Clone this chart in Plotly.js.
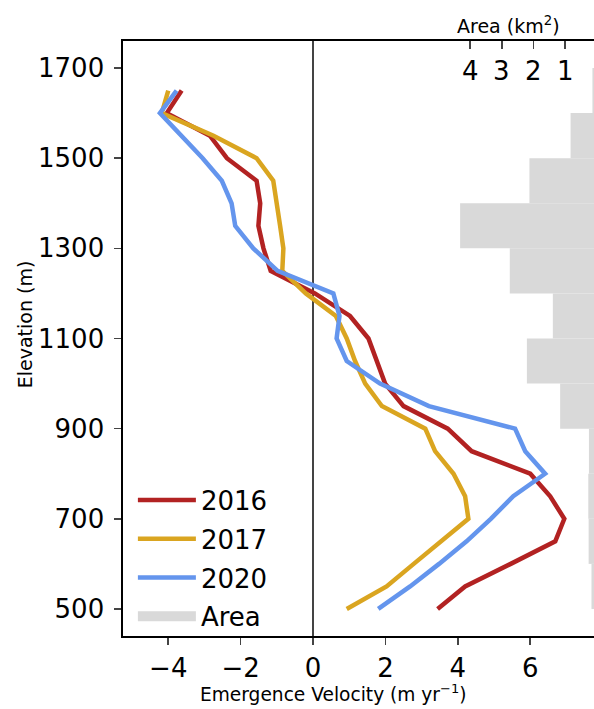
<!DOCTYPE html>
<html>
<head>
<meta charset="utf-8">
<script src="https://cdn.plot.ly/plotly-3.0.1.min.js"></script>
<style>html,body{margin:0;padding:0;background:#fff}#chart{width:594px;height:709px}</style>
</head>
<body>
<div id="chart"></div>
<script>
// Elevation (m) of velocity profile points
const elevation = [500,550,600,650,700,750,800,850,900,950,1000,1050,1100,1150,1200,1250,1300,1350,1400,1450,1500,1550,1600,1650];
// Emergence velocity (m/yr)
const v2016 = [3.44,4.20,5.46,6.69,6.94,6.55,6.00,4.38,3.72,2.50,1.99,1.75,1.53,1.02,0.05,-1.17,-1.37,-1.51,-1.46,-1.56,-2.38,-2.85,-4.04,-3.63];
const v2017 = [0.93,2.03,2.78,3.54,4.29,4.20,3.88,3.37,3.10,1.90,1.44,1.16,0.93,0.63,-0.20,-0.85,-0.82,-0.91,-1.00,-1.10,-1.56,-2.75,-4.18,-4.00];
const v2020 = [1.80,2.68,3.48,4.24,4.91,5.53,6.41,5.86,5.58,3.20,1.85,0.93,0.65,0.73,0.56,-0.98,-1.65,-2.15,-2.25,-2.52,-3.05,-3.62,-4.23,-3.77];
// Area histogram (km^2) per 100 m elevation band
const bandCenters = [550,650,750,850,950,1050,1150,1250,1350,1450,1550,1650];
const bandArea = [0.17,0.26,0.27,0.25,1.16,2.21,1.39,2.75,4.32,2.13,0.83,0.14];
const yTicks = [500,700,900,1100,1300,1500,1700];
const xTicks = [-4,-2,0,2,4,6];
const areaTicks = [1,2,3,4];

const FONT = 'DejaVu Sans, sans-serif';
const TICKFONT = {family:FONT, size:26, color:'#000'};
const traces = [
  {type:'bar', orientation:'h', x:bandArea, y:bandCenters, width:100, xaxis:'x2', yaxis:'y',
   marker:{color:'#d9d9d9', line:{width:0}}, showlegend:false, legendgroup:'area', hoverinfo:'skip'},
  {type:'scatter', mode:'lines', x:v2016, y:elevation, name:'2016', legendgroup:'a',
   line:{color:'#b22222', width:4.5}},
  {type:'scatter', mode:'lines', x:v2017, y:elevation, name:'2017', legendgroup:'b',
   line:{color:'#daa520', width:4.5}},
  {type:'scatter', mode:'lines', x:v2020, y:elevation, name:'2020', legendgroup:'c',
   line:{color:'#6495ed', width:4.5}},
  {type:'scatter', mode:'lines', x:[null], y:[null], name:'Area', legendgroup:'area',
   line:{color:'#d9d9d9', width:19}}
];

const annotations = [
  {text:'Elevation (m)', xref:'paper', yref:'paper', x:-0.208, y:0.524, textangle:-90,
   showarrow:false, xanchor:'center', yanchor:'middle', font:{family:FONT, size:19}},
  {text:'Emergence Velocity (m yr<sup>−1</sup>)', xref:'paper', yref:'paper', x:0.446, y:-0.096,
   showarrow:false, xanchor:'center', yanchor:'middle', font:{family:FONT, size:18.6}},
  {text:'Area (km<sup>2</sup>)', xref:'paper', yref:'paper', x:0.8195, y:1.027,
   showarrow:false, xanchor:'center', yanchor:'middle', font:{family:FONT, size:19}}
];
// top-axis tick labels (drawn inside the plot, under the top spine)
areaTicks.forEach(t => annotations.push({
  text:String(t), xref:'x2', yref:'paper', x:t, y:0.9496, showarrow:false,
  xanchor:'center', yanchor:'middle', font:TICKFONT
}));

const layout = {
  width:594, height:709,
  margin:{l:123, r:0, t:41, b:73},
  paper_bgcolor:'#fff', plot_bgcolor:'rgba(0,0,0,0)',
  font:{family:FONT, size:26, color:'#000'},
  showlegend:true,
  legend:{x:0.021, y:0.268, xanchor:'left', yanchor:'top', bgcolor:'rgba(0,0,0,0)',
          font:{family:FONT, size:26, color:'#000'}, itemwidth:58, tracegroupgap:2, traceorder:'grouped'},
  xaxis:{range:[-5.25,7.76], tickvals:xTicks, ticks:'outside', ticklen:7, tickwidth:1.6,
         tickfont:TICKFONT, showline:true, linewidth:1.6, linecolor:'#000', showgrid:false,
         zeroline:true, zerolinecolor:'#444', zerolinewidth:1.3, ticklabelstandoff:1},
  xaxis2:{overlaying:'x', side:'top', anchor:'y', range:[14.97,0.09], tickvals:areaTicks,
          ticks:'inside', ticklen:8, tickwidth:1.6, showticklabels:false,
          showline:true, linewidth:1.6, linecolor:'#000', showgrid:false, zeroline:false},
  yaxis:{range:[440,1760], tickvals:yTicks, ticks:'outside', ticklen:7, tickwidth:1.6,
         tickfont:TICKFONT, showline:true, linewidth:1.6, linecolor:'#000', showgrid:false,
         zeroline:false, ticklabelstandoff:5},
  annotations:annotations
};
Plotly.newPlot('chart', traces, layout, {displayModeBar:false, staticPlot:true});
</script>
</body>
</html>
